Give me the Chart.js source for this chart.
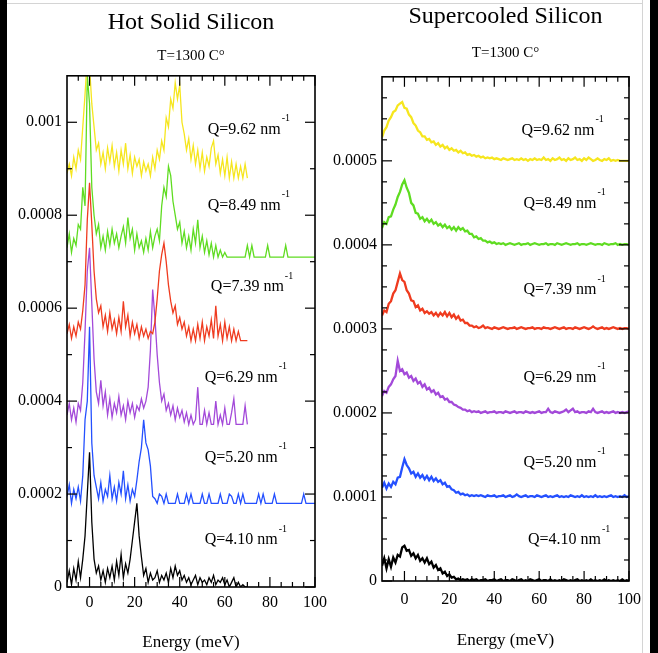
<!DOCTYPE html>
<html><head><meta charset="utf-8">
<script src="https://cdn.jsdelivr.net/npm/chart.js@4.4.1/dist/chart.umd.min.js"></script>
<style>
html,body{margin:0;padding:0;background:#fff;width:658px;height:653px;overflow:hidden;position:relative}
canvas{position:absolute;top:0}
#c1{left:0}
#c2{left:320px}
.bar{position:absolute;top:0;height:653px;background:#000}
</style></head><body>
<div class="bar" style="left:0;width:7px"></div>
<div class="bar" style="left:650px;width:8px"></div>
<div style="position:absolute;left:642px;top:0;width:1px;height:653px;background:#d4d4d4"></div>
<div style="position:absolute;left:7px;top:3px;width:635px;height:1px;background:#d4d4d4"></div>
<canvas id="c1" width="330" height="653" style="width:330px;height:653px"></canvas>
<canvas id="c2" width="322" height="653" style="width:322px;height:653px"></canvas>
<script>
// ---------------- DATA ----------------
const ENERGY = [-10,-9,-8,-7,-6,-5,-4,-3,-2,-1,0,1,2,3,4,5,6,7,8,9,10,11,12,13,14,15,16,17,18,19,20,21,22,23,24,25,26,27,28,29,30,31,32,33,34,35,36,37,38,39,40,41,42,43,44,45,46,47,48,49,50,51,52,53,54,55,56,57,58,59,60,61,62,63,64,65,66,67,68,69,70,71,72,73,74,75,76,77,78,79,80,81,82,83,84,85,86,87,88,89,90,91,92,93,94,95,96,97,98,99,100];
const Q_VALUES = ['4.10','5.20','6.29','7.39','8.49','9.62'];

// Hot solid silicon: intensity above each curve's baseline, in units of 1e-6
const SOLID_OFFSETS = [0, 0.00018, 0.00035, 0.00053, 0.00071, 0.00088];
const SOLID_Q410 = [10,35,5,40,15,55,20,60,110,200,
 290,140,60,30,45,15,35,10,40,20,
 45,15,55,25,70,20,50,30,60,100,
 140,180,110,65,25,40,10,30,15,20,
 35,10,25,15,30,10,40,20,45,25,
 35,15,25,10,20,5,15,25,5,20,
 10,15,5,20,10,25,5,15,10,20,
 5,15,0,10,20,0,10,0,5,0,0];
const SOLID_Q520 = [15,40,0,30,10,35,5,60,180,220,
 380,130,60,35,10,45,5,30,15,60,
 10,35,5,45,20,70,10,40,5,30,
 15,50,90,120,180,130,115,80,15,10,
 0,20,15,0,20,0,0,0,0,20,
 0,0,0,20,0,20,0,0,0,0,
 20,0,0,20,0,0,0,0,20,0,
 0,0,20,15,0,0,20,0,20,0,
 0,0,0,0,0,20,0,20,0,0,
 0,0,20,0,0,0,0,0,0,0,
 0,0,0,0,0,20,0,0,0,0,0];
const SOLID_Q629 = [20,45,10,35,5,45,30,90,200,330,
 380,260,140,70,45,95,40,70,20,55,
 15,45,25,60,20,40,10,50,25,45,
 15,40,30,55,35,50,80,160,290,230,
 150,90,50,65,30,45,20,40,10,35,
 15,30,5,25,0,20,0,10,80,0,
 0,30,0,25,0,0,50,0,20,0,
 35,0,0,25,55,0,0,0,0,40,0];
const SOLID_Q739 = [15,35,5,30,10,40,25,65,120,260,
 340,250,150,90,60,75,30,55,20,60,
 25,45,15,50,20,85,30,55,10,40,
 15,35,5,30,10,25,5,20,15,40,
 90,150,185,210,170,120,85,60,75,35,
 50,25,40,10,30,0,25,0,35,5,
 40,0,30,10,45,5,75,10,35,0,
 40,5,30,0,25,0,20,0,0,0,0];
const SOLID_Q849 = [20,50,10,40,25,70,60,150,110,390,
 330,150,90,50,70,20,45,15,55,25,
 60,30,50,20,45,65,30,85,40,60,
 15,50,20,35,10,40,15,55,20,45,
 60,35,110,150,130,195,175,120,90,60,
 75,30,55,20,45,15,60,30,80,20,
 45,10,35,5,30,0,25,0,15,0,
 10,0,0,0,0,0,0,0,0,0,
 25,0,25,0,0,0,0,0,0,25,
 0,0,0,0,0,0,0,25,0,0,
 0,0,0,0,0,0,0,0,0,0,0];
const SOLID_Q962 = [10,30,5,45,20,60,40,110,180,260,
 240,160,110,60,75,30,55,20,65,35,
 70,25,55,15,60,30,75,20,50,10,
 45,25,40,5,35,15,30,5,45,20,
 60,40,80,60,130,110,170,150,205,170,
 200,120,95,60,85,40,70,30,60,20,
 55,15,45,25,65,80,30,50,10,40,
 5,45,0,35,0,30,0,25,0,30,0];

// Supercooled silicon: intensity above each curve's baseline, in units of 1e-6
const LIQUID_OFFSETS = [0, 0.0001, 0.0002, 0.0003, 0.0004, 0.0005];
const LIQUID_Q410 = [18,27,15,26,17,28,22,31,29,40,
 42,36,37,30,33,27,31,24,27,22,
 27,20,23,16,19,13,15,9,11,6,
 8,4,5,2,3,1,2,1,2,0,
 2,1,2,0,1,1,2,0,1,1,
 2,0,1,2,0,1,1,0,2,1,
 0,1,2,0,1,0,2,1,0,1,
 2,0,1,1,0,2,0,1,0,1,
 0,2,1,0,1,0,1,2,0,1,
 0,1,0,2,0,1,0,1,0,2,
 0,1,0,1,0,1,0,2,0,1,0];
const LIQUID_Q520 = [11,17,10,16,12,18,15,23,24,35,
 45,38,34,28,30,24,28,23,26,21,
 25,20,24,19,22,18,20,15,17,12,
 13,9,8,5,6,3,4,2,3,1,
 2,1,2,1,2,1,0,2,1,1,
 2,0,1,1,2,0,1,2,0,1,
 3,1,0,1,2,0,1,1,0,2,
 1,0,1,2,0,1,0,1,2,0,
 1,0,1,0,2,1,0,1,0,2,
 0,1,0,1,0,2,0,1,0,1,
 0,1,2,0,1,0,1,0,2,0,1];
const LIQUID_Q629 = [20,26,24,31,34,40,44,62,50,52,
 46,48,42,44,38,41,35,37,31,34,
 28,30,25,27,22,24,19,20,16,17,
 13,13,10,9,7,6,4,4,2,3,
 1,2,1,2,0,1,2,0,1,1,
 2,0,1,1,0,2,1,0,1,2,
 0,1,1,0,2,1,0,1,0,1,
 2,0,1,1,5,1,0,2,1,0,
 1,2,4,1,3,5,1,2,0,1,
 1,0,2,1,5,1,0,1,2,0,
 1,0,1,2,0,1,0,1,0,1,2];
const LIQUID_Q739 = [16,22,20,30,33,42,46,56,66,58,
 56,46,42,34,33,26,28,22,24,19,
 21,18,20,16,19,15,19,16,20,15,
 19,14,17,12,15,10,11,7,7,4,
 4,2,3,1,2,4,1,2,1,0,
 2,1,0,1,2,1,0,1,1,2,
 0,1,2,1,0,1,1,2,0,1,
 1,0,2,1,1,0,1,2,1,0,
 1,2,0,1,1,0,2,1,0,1,
 2,1,0,1,3,1,0,1,2,0,
 1,0,1,2,1,0,1,0,1,1,0];
const LIQUID_Q849 = [20,27,25,33,34,42,48,57,63,72,
 77,68,62,50,47,38,37,31,33,28,
 31,27,30,25,27,23,25,21,24,20,
 22,18,21,17,21,18,20,16,17,13,
 13,9,10,7,8,5,5,3,4,2,
 3,1,2,1,2,0,1,2,1,0,
 1,2,0,1,1,2,0,1,2,1,
 0,1,1,2,0,1,1,0,2,1,
 0,1,2,1,0,1,1,2,0,1,
 1,0,1,2,1,0,1,1,0,2,
 1,0,1,1,2,0,1,0,1,1,0];
const LIQUID_Q962 = [28,36,40,48,52,58,60,66,68,70,
 63,62,55,52,45,42,36,34,29,29,
 25,26,22,23,19,21,17,19,15,17,
 13,15,12,13,10,12,9,10,7,8,
 6,7,5,6,4,5,3,4,3,4,
 2,3,2,1,3,2,1,2,3,1,
 2,1,3,1,2,0,2,1,3,1,
 2,1,4,1,2,0,3,1,2,4,
 1,2,0,3,1,2,4,1,2,0,
 3,1,4,2,0,1,3,1,0,2,
 1,3,0,1,0,1,0,0,0,0,0];

// Tick values and labels
const X_TICKS = [0,20,40,60,80,100];
const X_MINOR = [-5,5,10,15,25,30,35,45,50,55,65,70,75,85,90,95];
const SOLID_Y_TICKS = [0,0.0002,0.0004,0.0006,0.0008,0.001];
const SOLID_Y_LABELS = ['0','0.0002','0.0004','0.0006','0.0008','0.001'];
const SOLID_Y_MINOR = [0.0001,0.0003,0.0005,0.0007,0.0009];
const LIQUID_Y_TICKS = [0,0.0001,0.0002,0.0003,0.0004,0.0005];
const LIQUID_Y_LABELS = ['0','0.0001','0.0002','0.0003','0.0004','0.0005'];
const LIQUID_Y_MINOR = [0.000025,0.00005,0.000075,0.000125,0.00015,0.000175,0.000225,0.00025,0.000275,0.000325,0.00035,0.000375,0.000425,0.00045,0.000475,0.000525,0.00055,0.000575];

// ---------------- STYLE / LAYOUT ----------------
const COLORS = ['#000000','#2450ff','#a349d9','#ef3b1f','#5fdc21','#f6e61e'];
const FONT = '"Liberation Serif", "Times New Roman", serif';
const SOLID_LABEL_POS = [[51.1,0.000101],[51.1,0.000279],[51.1,0.000451],[53.8,0.000645],[52.4,0.000821],[52.4,0.000984]];
const LIQUID_LABEL_POS = [[55,0.0000487],[53,0.000141],[53,0.000242],[53,0.000346],[53,0.000449],[52.1,0.000536]];

const framePlugin = {
  id: 'frameTicks',
  afterDatasetsDraw(chart, args, o) {
    const {ctx, chartArea: a, scales: {x, y}} = chart;
    ctx.save();
    ctx.strokeStyle = '#000';
    const seg = (x1, y1, x2, y2) => { ctx.beginPath(); ctx.moveTo(x1, y1); ctx.lineTo(x2, y2); ctx.stroke(); };
    ctx.lineWidth = 1.2;
    [[X_TICKS, 10], [X_MINOR, 5]].forEach(([vals, len]) => vals.forEach(v => {
      const p = x.getPixelForValue(v);
      seg(p, a.bottom, p, a.bottom - len); seg(p, a.top, p, a.top + len);
    }));
    [[o.yMajor, 10], [o.yMinor, 5]].forEach(([vals, len]) => vals.forEach(v => {
      const p = y.getPixelForValue(v);
      seg(a.left, p, a.left + len, p); seg(a.right, p, a.right - len, p);
    }));
    ctx.lineWidth = 1.6;
    ctx.strokeRect(a.left, a.top, a.right - a.left, a.bottom - a.top);
    // Q labels
    ctx.fillStyle = '#000';
    ctx.textBaseline = 'middle';
    ctx.textAlign = 'left';
    o.labels.forEach((pos, i) => {
      const px = x.getPixelForValue(pos[0]), py = y.getPixelForValue(pos[1]);
      const main = 'Q=' + Q_VALUES[i] + ' nm';
      ctx.font = '16px ' + FONT;
      ctx.fillText(main, px, py);
      const w = ctx.measureText(main).width;
      ctx.font = '10px ' + FONT;
      ctx.fillText('-1', px + w + 1, py - 11);
    });
    ctx.restore();
  }
};

function makeChart(id, cfg) {
  const datasets = cfg.series.map((vals, i) => ({
    data: vals.map((v, k) => ({x: ENERGY[k], y: cfg.offsets[i] + v * 1e-6})),
    borderColor: COLORS[i],
    borderWidth: cfg.lw,
    pointRadius: 0,
    tension: 0,
    fill: false,
    order: 5 - i
  }));
  return new Chart(document.getElementById(id), {
    type: 'line',
    data: {datasets},
    plugins: [framePlugin],
    options: {
      responsive: false,
      animation: false,
      events: [],
      layout: {padding: {left: 0, right: cfg.padRight, top: 0, bottom: 0}},
      plugins: {
        legend: {display: false},
        tooltip: {enabled: false},
        title: {display: true, text: cfg.title, fullSize: false, color: '#000',
          font: {family: FONT, size: 24, weight: 'normal', lineHeight: 1.2}, padding: cfg.titlePad},
        subtitle: {display: true, text: 'T=1300 C°', fullSize: false, color: '#000',
          font: {family: FONT, size: 15, weight: 'normal', lineHeight: 1.2}, padding: cfg.subPad},
        frameTicks: {yMajor: cfg.yTicks, yMinor: cfg.yMinor, labels: cfg.labelPos}
      },
      scales: {
        x: {
          type: 'linear', min: -10, max: 100,
          grid: {display: false, drawTicks: false}, border: {display: false},
          afterBuildTicks: s => { s.ticks = X_TICKS.map(v => ({value: v})); },
          afterFit: s => { s.height = cfg.xHeight; s.paddingLeft = 0; s.paddingRight = 0; },
          ticks: {color: '#000', font: {family: FONT, size: 16}, padding: cfg.xPad, maxRotation: 0, autoSkip: false},
          title: {display: true, text: 'Energy (meV)', color: '#000', font: {family: FONT, size: 17, lineHeight: 1.2}, padding: {top: 0, bottom: cfg.xTitleBottom}}
        },
        y: {
          type: 'linear', min: 0, max: cfg.yMax,
          grid: {display: false, drawTicks: false}, border: {display: false},
          afterBuildTicks: s => { s.ticks = cfg.yTicks.map(v => ({value: v})); },
          afterFit: s => { s.width = cfg.yWidth; },
          ticks: {color: '#000', font: {family: FONT, size: 16}, padding: 5, autoSkip: false,
            callback: (v, idx) => cfg.yLabels[idx]}
        }
      }
    }
  });
}

makeChart('c1', {
  title: 'Hot Solid Silicon',
  series: [SOLID_Q410, SOLID_Q520, SOLID_Q629, SOLID_Q739, SOLID_Q849, SOLID_Q962],
  offsets: SOLID_OFFSETS, lw: 1.3, yMax: 0.0011,
  yTicks: SOLID_Y_TICKS, yLabels: SOLID_Y_LABELS, yMinor: SOLID_Y_MINOR, labelPos: SOLID_LABEL_POS,
  padRight: 15, yWidth: 67, xHeight: 66, xPad: 6, xTitleBottom: 0,
  titlePad: {top: 8, bottom: 4}, subPad: {top: 6, bottom: 11}
});
makeChart('c2', {
  title: 'Supercooled Silicon',
  series: [LIQUID_Q410, LIQUID_Q520, LIQUID_Q629, LIQUID_Q739, LIQUID_Q849, LIQUID_Q962],
  offsets: LIQUID_OFFSETS, lw: 2.3, yMax: 0.0006,
  yTicks: LIQUID_Y_TICKS, yLabels: LIQUID_Y_LABELS, yMinor: LIQUID_Y_MINOR, labelPos: LIQUID_LABEL_POS,
  padRight: 13, yWidth: 62, xHeight: 72, xPad: 9, xTitleBottom: 2,
  titlePad: {top: 2, bottom: 4}, subPad: {top: 9, bottom: 15}
});
</script>
</body></html>
